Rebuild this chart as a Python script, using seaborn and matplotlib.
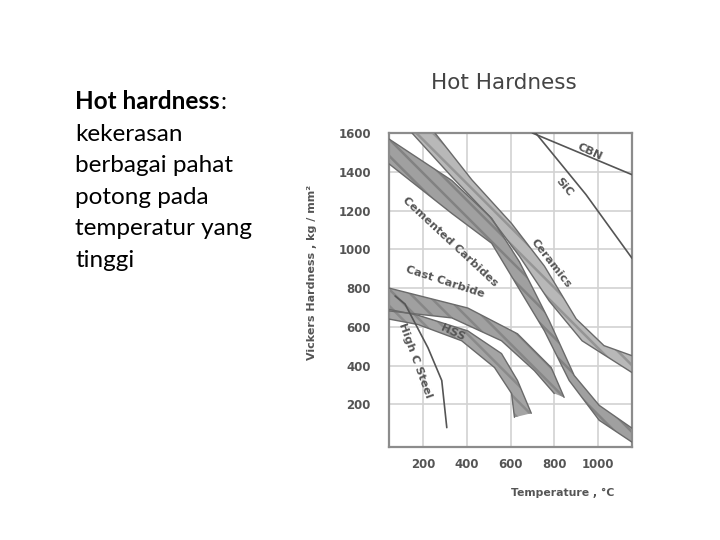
import matplotlib
matplotlib.use("Agg")
import matplotlib.pyplot as plt
import seaborn as sns
import numpy as np
import pandas as pd

# ---------------- data ----------------
x_ticks = [200, 400, 600, 800, 1000]
y_ticks = [200, 400, 600, 800, 1000, 1200, 1400, 1600]

ceramics_upper_x = [255, 423, 605, 755, 900, 1027, 1155]
ceramics_upper_y = [1600, 1359, 1133, 913, 641, 503, 451]
ceramics_lower_x = [150, 332, 505, 641, 777, 927, 1155]
ceramics_lower_y = [1600, 1374, 1169, 964, 733, 528, 364]

cemented_upper_x = [45, 332, 514, 641, 777, 891, 1005, 1155]
cemented_upper_y = [1569, 1355, 1160, 935, 631, 349, 195, 77]
cemented_lower_x = [45, 332, 514, 618, 755, 868, 1005, 1155]
cemented_lower_y = [1441, 1185, 1031, 836, 579, 323, 118, 5]

cast_upper_x = [45, 405, 632, 786, 845]
cast_upper_y = [800, 697, 564, 390, 236]
cast_lower_x = [45, 332, 559, 709, 800]
cast_lower_y = [682, 646, 528, 374, 256]

hss_upper_x = [45, 177, 405, 559, 632, 695]
hss_upper_y = [690, 660, 579, 462, 323, 154]
hss_lower_x = [45, 177, 377, 527, 605, 618]
hss_lower_y = [640, 612, 528, 390, 256, 133]

cbn_x = [700, 1155]
cbn_y = [1600, 1385]
sic_x = [715, 945, 1155]
sic_y = [1600, 1282, 954]
high_c_x = [73, 118, 223, 286, 309]
high_c_y = [759, 718, 492, 323, 80]

slide_lines = ["kekerasan", "berbagai pahat", "potong pada", "temperatur yang", "tinggi"]
slide_title = "Hot hardness"

# ---------------- figure ----------------
sns.set_style("white")
plt.rcParams["hatch.linewidth"] = 1.8
fig = plt.figure(figsize=(7.2, 5.4), dpi=100)
W, H = 720, 540

ax = fig.add_axes([389 / W, 1 - 447 / H, (632 - 389) / W, (447 - 133) / H])
ax.set_xlim(45, 1155)
ax.set_ylim(-20, 1600)

gray_txt = "#555555"
ax.set_xticks(x_ticks)
ax.set_yticks(y_ticks)
ax.tick_params(length=0, labelsize=8.5, labelcolor=gray_txt, pad=8)
ax.tick_params(axis="y", pad=13)
for lab in ax.get_xticklabels() + ax.get_yticklabels():
    lab.set_fontweight("bold")
ax.grid(True, color="#d2d2d2", linewidth=1.2)
for s in ax.spines.values():
    s.set_color("#8c8c8c")
    s.set_linewidth(1.6)


def band(ux, uy, lx, ly, face, hatch_col):
    px = list(ux) + list(lx)[::-1]
    py = list(uy) + list(ly)[::-1]
    ax.fill(px, py, facecolor=face, edgecolor=hatch_col, hatch="\\\\", linewidth=0, zorder=2)
    ax.plot(ux, uy, color="#6a6a6a", lw=1.0, zorder=3)
    ax.plot(lx, ly, color="#6a6a6a", lw=1.0, zorder=3)


band(cemented_upper_x, cemented_upper_y, cemented_lower_x, cemented_lower_y, "#a0a0a0", "#828282")
band(ceramics_upper_x, ceramics_upper_y, ceramics_lower_x, ceramics_lower_y, "#b8b8b8", "#959595")
band(cast_upper_x, cast_upper_y, cast_lower_x, cast_lower_y, "#a0a0a0", "#868686")
band(hss_upper_x, hss_upper_y, hss_lower_x, hss_lower_y, "#a4a4a4", "#8a8a8a")

lines = pd.DataFrame({
    "x": cbn_x + sic_x + high_c_x,
    "y": cbn_y + sic_y + high_c_y,
    "tool": ["CBN"] * len(cbn_x) + ["SiC"] * len(sic_x) + ["High C Steel"] * len(high_c_x),
})
sns.lineplot(data=lines, x="x", y="y", units="tool", estimator=None, sort=False,
             color="#555555", lw=1.2, ax=ax, legend=False, zorder=4)
ax.set_xlabel("")
ax.set_ylabel("")

lab_kw = dict(color="#555555", fontsize=8.2, fontweight="bold", ha="center", va="center",
              rotation_mode="anchor", zorder=5)
ax.text(962, 1502, "CBN", rotation=-25, **lab_kw)
ax.text(845, 1323, "SiC", rotation=-50, **lab_kw)
ax.text(323, 1041, "Cemented Carbides", rotation=-43, **lab_kw)
ax.text(786, 928, "Ceramics", rotation=-52, **lab_kw)
ax.text(300, 830, "Cast Carbide", rotation=-18, **lab_kw)
ax.text(336, 569, "HSS", rotation=-25, **lab_kw)
ax.text(164, 426, "High C Steel", rotation=-70, **lab_kw)

# chart title and axis labels (as in the scanned figure)
fig.text(504 / W, 1 - 83 / H, "Hot Hardness", ha="center", va="center",
         fontsize=15.5, color="#444444")
fig.text(312 / W, 1 - 272 / H, "Vickers Hardness , kg / mm\u00b2", ha="center", va="center",
         rotation=90, fontsize=8, color="#555555", fontweight="bold")
fig.text(563 / W, 1 - 493 / H, "Temperature , \u00b0C", ha="center", va="center",
         fontsize=7.8, color="#555555", fontweight="bold")

# slide text on the left
fam = ["Lato", "DejaVu Sans"]
fs = 17.5
base0 = 109
step = 31.6
t = fig.text(75 / W, 1 - base0 / H, slide_title, fontsize=fs, fontweight="bold",
             family=fam, va="baseline", ha="left", color="black")
fig.canvas.draw()
bb = t.get_window_extent()
fig.text(bb.x1 / W + 0.001, 1 - base0 / H, ":", fontsize=fs, family=fam,
         va="baseline", ha="left", color="black")
for i, line in enumerate(slide_lines):
    fig.text(75 / W, 1 - (base0 + step * (i + 1)) / H, line, fontsize=fs, family=fam,
             va="baseline", ha="left", color="black")

fig.savefig("out.png", dpi=100)
